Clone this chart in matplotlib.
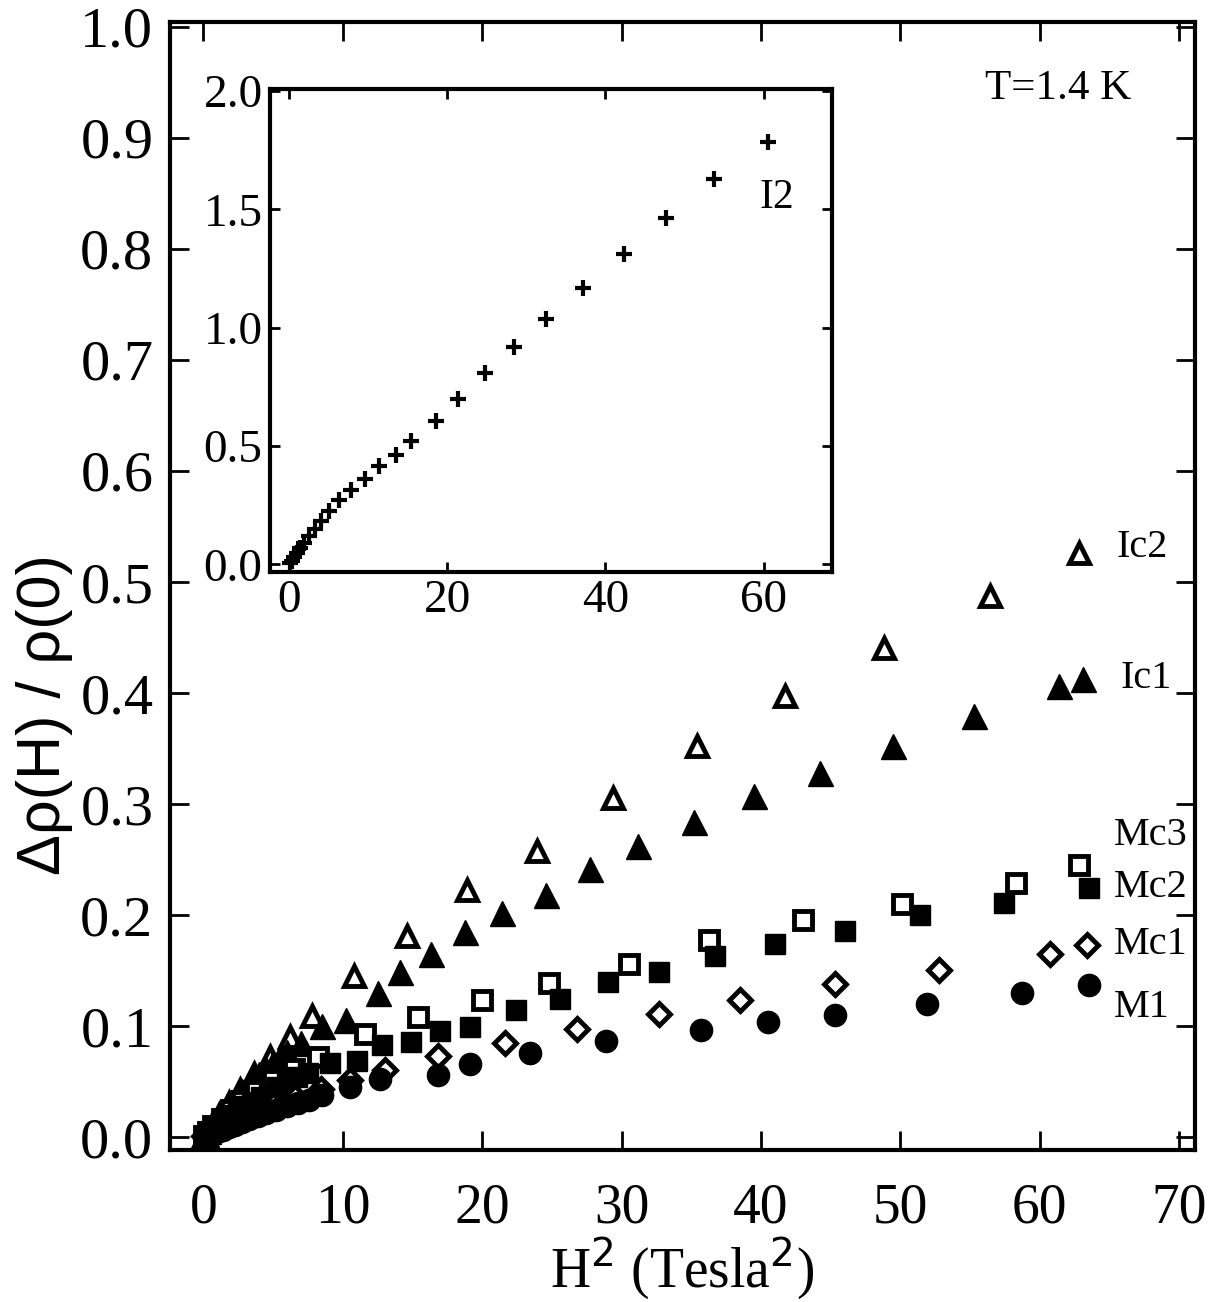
import matplotlib
matplotlib.use("Agg")
import matplotlib.pyplot as plt

plt.rcParams['font.family'] = ['Liberation Serif', 'DejaVu Serif']

# main panel data, H^2 (Tesla^2) vs delta rho / rho(0)
ic2_x = [0.05, 0.25, 0.6, 1.1, 1.8, 2.6, 3.6, 4.8, 6.2, 7.8, 10.8, 14.6, 18.9, 23.9, 29.4, 35.4, 41.7, 48.8, 56.4, 62.8]
ic2_y = [0.001, 0.005, 0.011, 0.020, 0.031, 0.043, 0.057, 0.072, 0.090, 0.109, 0.145, 0.181, 0.223, 0.258, 0.306, 0.352, 0.397, 0.441, 0.487, 0.526]

ic1_x = [0.05, 0.15, 0.3, 0.5, 0.8, 1.1, 1.4, 1.7, 2.0, 2.4, 2.8, 3.2, 3.6, 4.0, 4.5, 5.0, 5.5, 6.0, 7.0, 8.5, 10.2, 12.5, 14.1, 16.3, 18.8, 21.4, 24.6, 27.7, 31.2, 35.2, 39.5, 44.2, 49.5, 55.3, 61.4, 63.1]
ic1_y = [0.001, 0.003, 0.006, 0.009, 0.014, 0.019, 0.023, 0.028, 0.032, 0.037, 0.042, 0.047, 0.052, 0.057, 0.062, 0.067, 0.072, 0.077, 0.085, 0.100, 0.106, 0.130, 0.149, 0.165, 0.185, 0.202, 0.218, 0.242, 0.262, 0.284, 0.307, 0.328, 0.352, 0.379, 0.406, 0.413]

mc3_x = [0.05, 0.3, 0.7, 1.3, 2.0, 2.8, 3.8, 5.0, 6.5, 8.2, 11.6, 15.4, 20.0, 24.8, 30.5, 36.3, 43.0, 50.1, 58.3, 62.8]
mc3_y = [0.001, 0.005, 0.010, 0.017, 0.025, 0.033, 0.042, 0.052, 0.062, 0.072, 0.093, 0.108, 0.124, 0.139, 0.156, 0.178, 0.196, 0.210, 0.229, 0.245]

mc2_x = [0.1, 0.3, 0.5, 0.75, 1.0, 1.3, 1.7, 2.1, 2.5, 3.0, 3.5, 4.1, 4.7, 5.3, 6.0, 6.7, 7.5, 9.1, 11.0, 12.8, 14.9, 17.0, 19.1, 22.4, 25.6, 29.0, 32.7, 36.7, 41.0, 46.0, 51.4, 57.4, 63.5]
mc2_y = [0.001, 0.003, 0.005, 0.007, 0.010, 0.013, 0.017, 0.020, 0.024, 0.028, 0.032, 0.036, 0.040, 0.045, 0.050, 0.054, 0.058, 0.067, 0.069, 0.083, 0.086, 0.096, 0.099, 0.115, 0.125, 0.140, 0.149, 0.163, 0.174, 0.186, 0.200, 0.211, 0.225]

mc1_x = [0.05, 0.4, 1.0, 1.7, 2.6, 3.7, 5.0, 6.6, 8.4, 10.5, 13.0, 16.8, 21.6, 26.8, 32.7, 38.5, 45.3, 52.8, 60.7, 63.4]
mc1_y = [0.001, 0.003, 0.006, 0.011, 0.016, 0.022, 0.029, 0.036, 0.044, 0.052, 0.061, 0.073, 0.085, 0.098, 0.111, 0.124, 0.138, 0.151, 0.165, 0.173]

m1_x = [0.05, 0.2, 0.4, 0.7, 1.0, 1.4, 1.8, 2.3, 2.8, 3.3, 3.9, 4.5, 5.2, 6.0, 6.8, 7.6, 8.5, 10.5, 12.7, 16.8, 19.1, 23.4, 28.9, 35.7, 40.5, 45.3, 51.9, 58.7, 63.5]
m1_y = [0.0005, 0.001, 0.002, 0.0035, 0.005, 0.007, 0.009, 0.0115, 0.014, 0.0165, 0.019, 0.022, 0.025, 0.028, 0.031, 0.034, 0.038, 0.045, 0.053, 0.056, 0.066, 0.076, 0.087, 0.097, 0.104, 0.110, 0.120, 0.130, 0.137]

# inset data (I2)
i2_x = [0.1, 0.3, 0.6, 1.0, 1.4, 1.9, 2.5, 3.2, 4.0, 5.0, 6.3, 7.8, 9.6, 11.4, 13.5, 15.4, 18.6, 21.4, 24.7, 28.4, 32.5, 37.1, 42.3, 47.7, 53.7, 60.5]
i2_y = [0.005, 0.015, 0.030, 0.048, 0.068, 0.090, 0.120, 0.150, 0.185, 0.225, 0.273, 0.315, 0.361, 0.416, 0.462, 0.521, 0.605, 0.697, 0.807, 0.920, 1.038, 1.168, 1.311, 1.462, 1.626, 1.786]

fig = plt.figure(figsize=(12.14, 13.02), dpi=100)
ax = fig.add_axes([0.140, 0.117, 0.844, 0.866])

ax.plot(ic2_x, ic2_y, '^', ms=15, mfc='white', mec='black', mew=3.5, ls='none')
ax.plot(ic1_x, ic1_y, '^', ms=18, mfc='black', mec='black', ls='none')
ax.plot(mc3_x, mc3_y, 's', ms=13, mfc='white', mec='black', mew=3.5, ls='none')
ax.plot(mc2_x, mc2_y, 's', ms=14, mfc='black', mec='black', ls='none')
ax.plot(mc1_x, mc1_y, 'D', ms=11, mfc='white', mec='black', mew=3.5, ls='none')
ax.plot(m1_x, m1_y, 'o', ms=16, mfc='black', mec='black', ls='none')

ax.set_xlim(-2.4, 71.1)
ax.set_ylim(-0.011, 1.004)
ax.set_xticks(range(0, 80, 10))
ax.set_yticks([i / 10 for i in range(11)])
ax.set_yticklabels([f"{i / 10:.1f}" for i in range(11)])
ax.tick_params(direction='in', length=14, width=2, top=True, right=True)
ax.tick_params(axis='x', pad=24, labelsize=40)
ax.tick_params(axis='y', pad=12, labelsize=42)
for s in ax.spines.values():
    s.set_linewidth(3)

ax.set_xlabel(r"H$^2$ (Tesla$^2$)", fontsize=40, labelpad=0)
ax.set_ylabel("Δρ(H) / ρ(0)", fontsize=44, family=['Liberation Sans', 'DejaVu Sans'])
ax.yaxis.set_label_coords(-0.095, 0.386)

lab_kw = dict(fontsize=29, va='center', ha='left')
ax.text(65.5, 0.531, "Ic2", **lab_kw)
ax.text(65.8, 0.413, "Ic1", **lab_kw)
ax.text(65.3, 0.272, "Mc3", **lab_kw)
ax.text(65.3, 0.225, "Mc2", **lab_kw)
ax.text(65.3, 0.174, "Mc1", **lab_kw)
ax.text(65.3, 0.117, "M1", **lab_kw)
ax.text(61.3, 0.944, "T=1.4 K", fontsize=31, va='center', ha='center')

# inset
ins = fig.add_axes([0.222, 0.561, 0.463, 0.371])
ins.plot(i2_x, i2_y, '+', ms=11, mew=3, color='black', ls='none')
ins.set_xlim(-2.5, 68.6)
ins.set_ylim(-0.03, 2.01)
ins.set_xticks([0, 20, 40, 60])
ins.set_yticks([0, 0.5, 1.0, 1.5, 2.0])
ins.set_yticklabels(["0.0", "0.5", "1.0", "1.5", "2.0"])
ins.tick_params(direction='in', length=7, width=2, top=True, right=True, labelsize=34)
ins.tick_params(axis='x', pad=6)
ins.tick_params(axis='y', pad=5)
for s in ins.spines.values():
    s.set_linewidth(3)
ins.text(59.5, 1.55, "I2", fontsize=30, va='center', ha='left')

fig.savefig("out.png", dpi=100)
